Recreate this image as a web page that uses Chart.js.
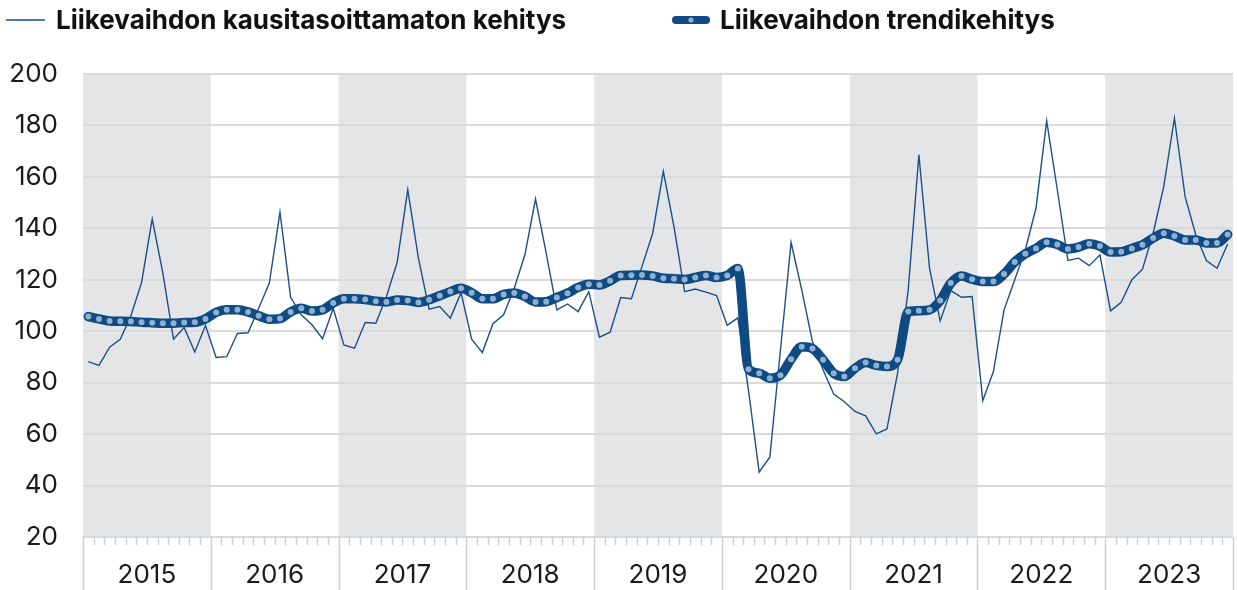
<!DOCTYPE html>
<html>
<head>
<meta charset="utf-8">
<script src="https://cdn.jsdelivr.net/npm/chart.js@4/dist/chart.umd.min.js"></script>
<style>
html,body{margin:0;padding:0;background:#fff;}
canvas{display:block;}
</style>
</head>
<body>
<canvas id="c" width="1237" height="590"></canvas>
<script>
const years = ['2015','2016','2017','2018','2019','2020','2021','2022','2023'];
const months = [];
years.forEach(y => { for (let m = 1; m <= 12; m++) months.push(y + '-' + String(m).padStart(2,'0')); });

const rawLabel = 'Liikevaihdon kausitasoittamaton kehitys';
const trendLabel = 'Liikevaihdon trendikehitys';

const rawValues = [
  88.2, 86.7, 93.8, 96.9, 106.0, 118.9, 143.7, 122.6, 96.9, 101.4, 91.9, 102.2,
  89.8, 90.1, 99.1, 99.4, 108.9, 118.7, 146.3, 113.2, 106.4, 102.5, 97.1, 108.9,
  94.7, 93.4, 103.4, 103.1, 113.5, 126.7, 155.0, 128.4, 108.6, 109.6, 105.1, 115.0,
  96.9, 91.7, 102.9, 106.4, 116.7, 129.7, 151.4, 130.4, 108.3, 110.6, 107.6, 115.4,
  97.7, 99.6, 113.1, 112.6, 125.2, 138.1, 162.1, 140.7, 115.4, 116.4, 115.2, 113.9,
  102.3, 105.2, 77.0, 45.2, 51.0, 92.7, 134.5, 116.1, 96.0, 85.0, 75.6, 72.6,
  68.8, 67.1, 60.1, 62.0, 83.7, 116.1, 168.6, 124.5, 104.0, 115.8, 113.2, 113.5,
  73.0, 84.3, 108.3, 120.0, 131.7, 147.9, 181.8, 155.0, 127.5, 128.4, 125.5, 129.7,
  107.9, 111.2, 120.0, 124.1, 138.1, 156.3, 182.9, 152.4, 137.5, 127.5, 124.5, 133.9
];

const trendValues = [
  105.7, 104.8, 104.0, 103.9, 103.8, 103.5, 103.3, 103.1, 103.1, 103.4, 103.5, 104.8,
  107.3, 108.3, 108.3, 107.5, 106.0, 104.7, 104.9, 107.5, 108.9, 107.9, 108.3, 111.0,
  112.6, 112.6, 112.3, 111.7, 111.4, 112.1, 111.9, 111.2, 112.2, 113.8, 115.4, 116.7,
  115.0, 112.6, 112.6, 114.3, 114.9, 113.5, 111.4, 111.5, 113.1, 114.8, 117.0, 118.3,
  118.0, 119.6, 121.7, 121.8, 121.9, 121.5, 120.6, 120.4, 120.1, 120.9, 121.7, 120.9,
  121.7, 124.4, 85.2, 83.7, 81.7, 82.9, 89.1, 94.0, 93.3, 88.9, 83.7, 82.4,
  85.6, 87.8, 86.7, 86.3, 88.9, 107.7, 108.0, 108.3, 111.9, 118.7, 121.5, 120.2,
  119.3, 119.3, 122.2, 126.9, 130.1, 132.2, 134.6, 133.7, 132.0, 132.7, 134.0, 133.1,
  130.8, 130.9, 132.2, 133.6, 136.2, 138.1, 137.0, 135.5, 135.5, 134.3, 134.3, 137.6
];

const yMin = 20, yMax = 200, yStep = 20;

const C_RAW = '#1b4f88';
const C_TREND = '#0f4a82';
const C_DOT = '#8eb0d1';
const C_BAND = '#e4e5e7';
const C_GRID = '#dadada';
const C_TICK = '#cfcfcf';
const FONT = 'Inter, "Noto Sans", sans-serif';

const decor = {
  id: 'decor',
  beforeDraw(chart) {
    const {ctx, chartArea, scales: {x}} = chart;
    const half = (x.getPixelForValue(1) - x.getPixelForValue(0)) / 2;
    const bound = i => x.getPixelForValue(i) - half;
    ctx.save();
    ctx.fillStyle = C_BAND;
    years.forEach((y, k) => {
      if (k % 2 === 0) {
        const a = bound(k * 12), b = bound(k * 12 + 12);
        ctx.fillRect(a, chartArea.top, b - a, chartArea.bottom - chartArea.top);
      }
    });
    ctx.restore();
  },
  afterDraw(chart) {
    const {ctx, chartArea, scales: {x}} = chart;
    const half = (x.getPixelForValue(1) - x.getPixelForValue(0)) / 2;
    const bound = i => x.getPixelForValue(i) - half;
    const base = chartArea.bottom;
    ctx.save();
    ctx.strokeStyle = C_TICK;
    ctx.lineWidth = 1.5;
    for (let i = 0; i <= months.length; i++) {
      const px = Math.round(bound(i)) + 0.5;
      ctx.beginPath();
      ctx.moveTo(px, base);
      ctx.lineTo(px, i % 12 === 0 ? chart.height : base + 8);
      ctx.stroke();
    }
    ctx.fillStyle = '#1a1a1a';
    ctx.font = '26px ' + FONT;
    ctx.textAlign = 'center';
    ctx.textBaseline = 'middle';
    years.forEach((y, k) => {
      const cx = (bound(k * 12) + bound(k * 12 + 12)) / 2;
      ctx.fillText(y, cx, 575);
    });
    const ly = 20;
    ctx.strokeStyle = C_RAW;
    ctx.lineWidth = 1.4;
    ctx.beginPath(); ctx.moveTo(6, ly); ctx.lineTo(45, ly); ctx.stroke();
    ctx.fillStyle = '#111';
    ctx.font = 'bold 26px ' + FONT;
    ctx.textAlign = 'left';
    ctx.fillText(rawLabel, 56, ly + 1);
    ctx.strokeStyle = C_TREND;
    ctx.lineWidth = 8;
    ctx.lineCap = 'round';
    ctx.beginPath(); ctx.moveTo(676, ly); ctx.lineTo(706, ly); ctx.stroke();
    ctx.fillStyle = C_DOT;
    ctx.beginPath(); ctx.arc(691, ly, 2.6, 0, Math.PI * 2); ctx.fill();
    ctx.fillStyle = '#111';
    ctx.fillText(trendLabel, 720, ly + 1);
    ctx.restore();
  }
};

new Chart(document.getElementById('c'), {
  type: 'line',
  data: {
    labels: months,
    datasets: [
      {
        label: trendLabel,
        data: trendValues,
        borderColor: C_TREND,
        borderWidth: 9.5,
        pointRadius: 3,
        pointBackgroundColor: C_DOT,
        pointBorderWidth: 0,
        tension: 0.4,
        cubicInterpolationMode: 'monotone',
        borderJoinStyle: 'round',
        borderCapStyle: 'round',
        order: 0
      },
      {
        label: rawLabel,
        data: rawValues,
        borderColor: C_RAW,
        borderWidth: 1.4,
        pointRadius: 0,
        tension: 0,
        order: 1
      }
    ]
  },
  options: {
    responsive: false,
    devicePixelRatio: 1,
    animation: false,
    layout: {padding: {top: 74, left: 0, right: 0, bottom: 0}},
    plugins: {legend: {display: false}, tooltip: {enabled: false}},
    scales: {
      x: {
        type: 'category',
        offset: true,
        grid: {display: false},
        border: {display: false},
        ticks: {display: false},
        afterFit(s) { s.height = 53; }
      },
      y: {
        min: yMin, max: yMax,
        ticks: {
          stepSize: yStep,
          padding: 25,
          color: '#1a1a1a',
          font: {family: FONT, size: 26}
        },
        grid: {color: C_GRID, lineWidth: 2, drawTicks: false},
        border: {display: false},
        afterFit(s) { s.width = 83; }
      }
    }
  },
  plugins: [decor]
});
</script>
</body>
</html>
